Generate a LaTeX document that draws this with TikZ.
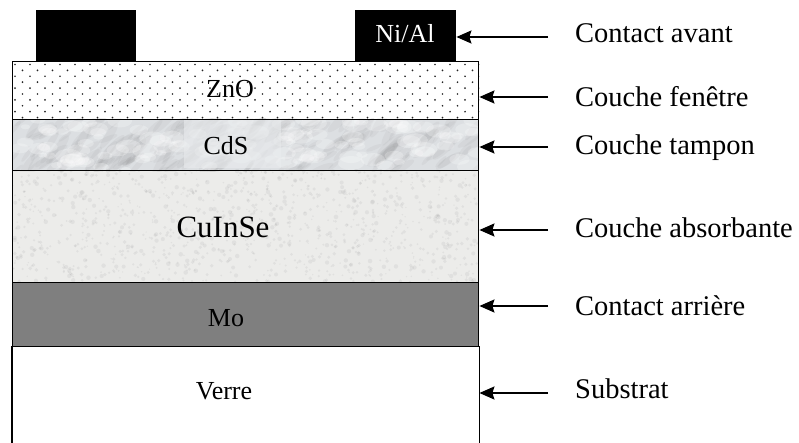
\documentclass[tikz,border=0pt]{standalone}
\usepackage{fontspec}
\setmainfont{Liberation Serif}
\usetikzlibrary{arrows.meta}
\definecolor{cdsc}{HTML}{DCDFE2}
\definecolor{cisc}{HTML}{ECECEA}
\definecolor{moc}{HTML}{7F7F7F}
\begin{document}
\begin{tikzpicture}[x=1pt,y=-1pt,
  layer/.style={draw=black, line width=1.4pt, inner sep=0pt, minimum width=466pt, anchor=north west},
  contactbox/.style={fill=black, inner sep=0pt, minimum width=100pt, minimum height=51pt, anchor=north west},
  lbl/.style={font=\fontsize{26}{28}\selectfont, inner sep=0pt, anchor=base},
  sidelbl/.style={font=\fontsize{28.5}{30}\selectfont, inner sep=0pt, anchor=base west},
  arr/.style={line width=1.6pt, -{Stealth[length=15pt,width=13pt,inset=2pt]}}]
\useasboundingbox (0,0) rectangle (799,443);
% layer fills
\node[layer, draw=none, fill=white, minimum height=58pt] (zno) at (12,61) {};
\node[layer, draw=none, fill=cdsc, minimum height=51pt] (cds) at (12,119) {};
\node[layer, draw=none, fill=cisc, minimum height=112pt] (cis) at (12,170) {};
\node[layer, draw=none, fill=moc, minimum height=64pt] (mo) at (12,282) {};
\node[layer, draw=none, fill=white, minimum height=97pt] (verre) at (12,346) {};
% ZnO dots
\begin{scope}
\clip (zno.north west) rectangle (zno.south east);
\foreach \r in {0,...,9}{
  \foreach \c in {0,...,31}{
    \fill[black!85] ({15+15*\c+7.5*mod(\r,2)},{64.5+5.9*\r}) circle (0.95);
  }
}
\end{scope}
% CdS marble texture
\begin{scope}
\clip (cds.north west) rectangle (cds.south east);
\pgfmathsetseed{7}
\foreach \i in {1,...,260}{
  \pgfmathsetmacro\xx{12+466*rnd}
  \pgfmathsetmacro\yy{119+51*rnd}
  \pgfmathsetmacro\rr{3+6*rnd}
  \pgfmathsetmacro\aa{20+40*rnd}
  \fill[black!60, opacity=0.06, rotate around={\aa:(\xx,\yy)}] (\xx,\yy) ellipse ({\rr*2} and {\rr*0.5});
}
\foreach \i in {1,...,120}{
  \pgfmathsetmacro\xx{12+466*rnd}
  \pgfmathsetmacro\yy{119+51*rnd}
  \pgfmathsetmacro\rr{3+6*rnd}
  \fill[white, opacity=0.25] (\xx,\yy) ellipse ({\rr*1.5} and {\rr*0.8});
}
\fill[cdsc!60!white, opacity=0.6] (184,120) rectangle (281,168);
\end{scope}
% CuInSe granite texture
\begin{scope}
\clip (cis.north west) rectangle (cis.south east);
\pgfmathsetseed{11}
\foreach \i in {1,...,1100}{
  \pgfmathsetmacro\xx{12+466*rnd}
  \pgfmathsetmacro\yy{170+112*rnd}
  \pgfmathsetmacro\rr{0.7+1.6*rnd}
  \fill[black!50, opacity=0.10] (\xx,\yy) circle (\rr);
}
\end{scope}
% borders
\node[layer, minimum height=58pt] at (12,61) {};
\node[layer, minimum height=51pt] at (12,119) {};
\node[layer, minimum height=112pt] at (12,170) {};
\node[layer, minimum height=64pt] at (12,282) {};
\draw[line width=1.4pt] (verre.north west) -- (verre.south west);
\draw[line width=1.4pt] (verre.north east) -- (verre.south east);
% contacts
\node[contactbox] (lc) at (36,10) {};
\node[contactbox, minimum width=101pt] (ni) at (355,10) {};
% layer labels
\node[lbl, text=white] (tni) at (405,43) {Ni/Al};
\node[lbl] (tzno) at (230,98) {ZnO};
\node[lbl] (tcds) at (226,155) {CdS};
\node[lbl, font=\fontsize{31}{33}\selectfont] (tcis) at (223,238) {CuInSe};
\node[lbl] (tmo) at (226,326) {Mo};
\node[lbl] (tverre) at (224,399) {Verre};
% side labels
\node[sidelbl] (l1) at (575,43) {Contact avant};
\node[sidelbl] (l2) at (575,107) {Couche fenêtre};
\node[sidelbl] (l3) at (575,155) {Couche tampon};
\node[sidelbl] (l4) at (575,238) {Couche absorbante};
\node[sidelbl] (l5) at (575,315) {Contact arrière};
\node[sidelbl] (l6) at (575,398) {Substrat};
% arrow tails
\coordinate (a1) at (548,37);
\coordinate (a2) at (548,97);
\coordinate (a3) at (548,147);
\coordinate (a4) at (548,230);
\coordinate (a5) at (548,306);
\coordinate (a6) at (548,393);
\draw[arr] (a1) -- (a1 -| ni.east);
\draw[arr] (a2) -- (a2 -| zno.east);
\draw[arr] (a3) -- (a3 -| cds.east);
\draw[arr] (a4) -- (a4 -| cis.east);
\draw[arr] (a5) -- (a5 -| mo.east);
\draw[arr] (a6) -- (a6 -| verre.east);
\end{tikzpicture}
\end{document}
